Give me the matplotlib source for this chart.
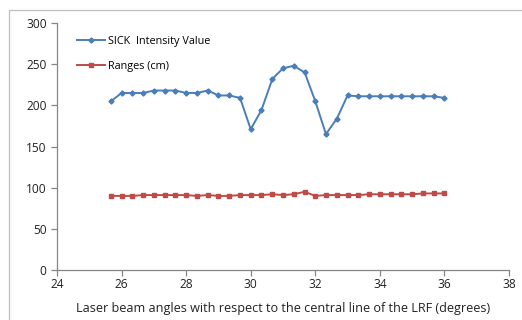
import numpy as np
import matplotlib
matplotlib.use("Agg")
import matplotlib.pyplot as plt

# angles in degrees (32 beams, ~1/3 degree apart)
angles = [25.67, 26.0, 26.33, 26.67, 27.0, 27.33, 27.67, 28.0,
          28.33, 28.67, 29.0, 29.33, 29.67, 30.0, 30.33, 30.67,
          31.0, 31.33, 31.67, 32.0, 32.33, 32.67, 33.0, 33.33,
          33.67, 34.0, 34.33, 34.67, 35.0, 35.33, 35.67, 36.0]

intensity = [205, 215, 215, 215, 218, 218, 218, 215,
             215, 218, 212, 212, 209, 171, 194, 232,
             245, 248, 240, 205, 165, 184, 212, 211,
             211, 211, 211, 211, 211, 211, 211, 209]

ranges_cm = [90, 90, 90, 91, 91, 91, 91, 91,
             90, 91, 90, 90, 91, 91, 91, 92,
             91, 92, 95, 90, 91, 91, 91, 91,
             92, 92, 92, 92, 92, 93, 93, 93]

plt.rcParams["font.family"] = ["Open Sans", "DejaVu Sans"]

W, H = 522, 320
fig = plt.figure(figsize=(W / 100, H / 100), dpi=100)
ax = fig.add_axes([57 / W, 1 - 270 / H, 452 / W, 247 / H])

blue = "#4A7EBB"
red = "#BE4B48"

ax.plot(angles, intensity, color=blue, linewidth=1.4, marker="D",
        markersize=2.6, label="SICK  Intensity Value")
ax.plot(angles, ranges_cm, color=red, linewidth=1.4, marker="s",
        markersize=2.6, label="Ranges (cm)")

ax.set_xlim(24, 38)
ax.set_ylim(0, 300)
ax.set_xticks(range(24, 39, 2))
ax.set_yticks(range(0, 301, 50))

for side in ["top", "right"]:
    ax.spines[side].set_visible(False)
for side in ["left", "bottom"]:
    ax.spines[side].set_color("#868686")
    ax.spines[side].set_linewidth(0.9)
ax.tick_params(axis="both", colors="#868686", labelcolor="#222222",
               labelsize=8.6, length=4, width=0.9)
ax.tick_params(axis="x", pad=2)

ax.set_xlabel("Laser beam angles with respect to the central line of the LRF (degrees)",
              fontsize=9.1, color="#222222", labelpad=8)

ax.legend(loc="upper left", bbox_to_anchor=(77 / W, 1 - 36 / H),
          bbox_transform=fig.transFigure, frameon=False, borderpad=0,
          borderaxespad=0, fontsize=7.8, handlelength=2.6,
          handletextpad=0.25, labelspacing=1.25)

# chart area border (runs off the right and bottom edge)
fig.patches.append(plt.Rectangle((9 / W, -0.05), 1.1, 1.05 - 10 / H,
                                 transform=fig.transFigure, fill=False,
                                 edgecolor="#BFBFBF", linewidth=0.9))

fig.savefig("out.png", dpi=100)
